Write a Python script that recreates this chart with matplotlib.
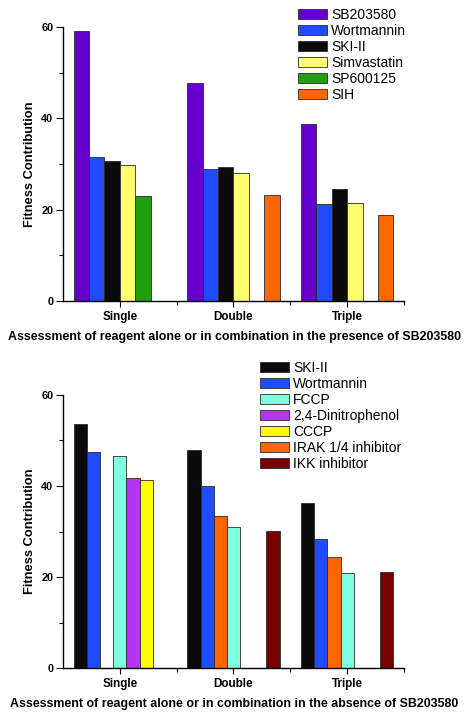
import numpy as np
import matplotlib
matplotlib.use("Agg")
import matplotlib.pyplot as plt
from matplotlib.patches import Patch
from matplotlib.ticker import FixedLocator

plt.rcParams['font.family'] = ['Liberation Sans', 'DejaVu Sans']

categories = ['Single', 'Double', 'Triple']

# Top panel (presence of SB203580); slot order = legend order
top_names = ['SB203580', 'Wortmannin', 'SKI-II', 'Simvastatin', 'SP600125', 'SIH']
top_colors = ['#6600CC', '#1F4CFF', '#0A0A0A', '#FFFF70', '#20A010', '#FF6600']
top_values = [
    [59.1, 47.8, 38.8],
    [31.6, 28.8, 21.2],
    [30.7, 29.4, 24.5],
    [29.7, 28.0, 21.4],
    [22.9, np.nan, np.nan],
    [np.nan, 23.3, 18.9],
]

# Bottom panel (absence of SB203580); listed in bar-slot order
bot_names = ['SKI-II', 'Wortmannin', 'IRAK 1/4 inhibitor', 'FCCP', '2,4-Dinitrophenol', 'CCCP', 'IKK inhibitor']
bot_colors = ['#0A0A0A', '#1F4CFF', '#FF6600', '#80FFE0', '#B535F5', '#FFFF00', '#7A0000']
bot_values = [
    [53.6, 47.9, 36.2],
    [47.4, 40.0, 28.4],
    [np.nan, 33.3, 24.3],
    [46.6, 30.9, 21.0],
    [41.8, np.nan, np.nan],
    [41.2, np.nan, np.nan],
    [np.nan, 30.2, 21.2],
]
bot_legend_order = ['SKI-II', 'Wortmannin', 'FCCP', '2,4-Dinitrophenol', 'CCCP', 'IRAK 1/4 inhibitor', 'IKK inhibitor']

W, H = 468, 719
fig = plt.figure(figsize=(W / 100, H / 100), dpi=100)


def px_axes(left, top, right, bottom):
    return fig.add_axes([left / W, 1 - bottom / H, (right - left) / W, (bottom - top) / H])


def draw_panel(ax, names, colors, values, legend_order, legend_xy, title, title_y):
    n = len(names)
    group_w = 0.81
    w = group_w / n
    x = np.arange(1, len(categories) + 1)
    handles = {}
    for i, (nm, col, vals) in enumerate(zip(names, colors, values)):
        v = np.array(vals, dtype=float)
        mask = ~np.isnan(v)
        pos = x + (i - (n - 1) / 2) * w
        ax.bar(pos[mask], v[mask], width=w, color=col, edgecolor='#2a2a2a',
               linewidth=0.6, align='center')
        handles[nm] = Patch(facecolor=col, edgecolor='#2a2a2a', linewidth=0.6)
    ax.set_xlim(0.5, 3.5)
    ax.set_ylim(0, 60)
    for s in ['top', 'right']:
        ax.spines[s].set_visible(False)
    for s in ['left', 'bottom']:
        ax.spines[s].set_linewidth(1.0)
    ax.set_yticks([0, 20, 40, 60])
    ax.yaxis.set_minor_locator(FixedLocator([10, 30, 50]))
    ax.tick_params(axis='y', which='major', length=5, width=0.8, direction='out',
                   labelsize=7.8, pad=2)
    ax.tick_params(axis='y', which='minor', length=3, width=0.8, direction='out')
    for lab in ax.get_yticklabels():
        lab.set_fontweight('bold')
    ax.set_xticks(x)
    ax.set_xticklabels(categories, fontweight='bold', fontsize=8.4)
    ax.tick_params(axis='x', which='major', length=4, width=0.8, direction='out', pad=3)
    ax.xaxis.set_minor_locator(FixedLocator([1.5, 2.5, 3.5]))
    ax.tick_params(axis='x', which='minor', length=3, width=0.8, direction='out')
    ax.set_ylabel('Fitness Contribution', fontweight='bold', fontsize=9.3, labelpad=4)
    fig.text(234.5 / W, 1 - title_y / H, title, fontweight='bold', fontsize=8.9,
             ha='center', va='center')
    leg = fig.legend([handles[k] for k in legend_order], legend_order,
                     loc='upper left', bbox_to_anchor=(legend_xy[0] / W, 1 - legend_xy[1] / H),
                     frameon=False, fontsize=10, handlelength=2.1, handleheight=0.8,
                     labelspacing=0.14, handletextpad=0.3, borderpad=0, borderaxespad=0)
    return leg


ax1 = px_axes(63, 27, 404, 301)
draw_panel(ax1, top_names, top_colors, top_values, top_names, (298, 8),
           'Assessment of reagent alone or in combination in the presence of SB203580', 337)

ax2 = px_axes(63, 394.7, 404, 668.3)
draw_panel(ax2, bot_names, bot_colors, bot_values, bot_legend_order, (260, 361),
           'Assessment of reagent alone or in combination in the absence of SB203580', 704)

fig.savefig('out.png', dpi=100)
